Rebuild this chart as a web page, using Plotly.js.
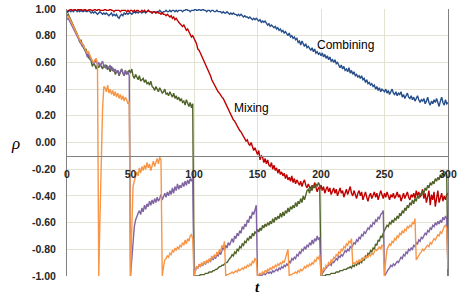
<!DOCTYPE html>
<html>
<head>
<meta charset="utf-8">
<script src="https://cdn.plot.ly/plotly-3.0.1.min.js"></script>
<style>html,body{margin:0;padding:0;background:#fff;}#chart{width:463px;height:300px;}</style>
</head>
<body>
<div id="chart"></div>
<script>
// time steps 0..300
const t = Array.from({length: 301}, (_, i) => i);

const combining = [
.97,.98,.99,.98,.99,.98,.99,.99,.98,.99,
.98,.99,.98,.98,.99,.98,.98,.99,.98,.97,
.98,.97,.98,.97,.96,.97,.98,.97,.96,.97,
.96,.97,.96,.95,.96,.97,.95,.96,.95,.96,
.94,.93,.95,.96,.95,.97,.96,.97,.96,.97,
.97,.96,.97,.98,.97,.98,.97,.98,.98,.97,
.98,.98,.97,.98,.99,.98,.98,.97,.98,.98,
.97,.98,.98,.99,.98,.97,.98,.98,.99,.98,
.98,.99,.98,.99,.99,.98,.99,.98,.99,.99,
.99,.98,.99,.99,1.0,.99,.99,.98,.99,.99,
.99,1.0,.99,.99,1.0,.99,.99,1.0,.99,.99,
.98,.99,.99,.98,.99,.99,.98,.98,.99,.98,
.98,.98,.97,.98,.97,.97,.98,.97,.96,.97,
.96,.97,.96,.96,.95,.96,.95,.96,.95,.94,
.95,.94,.94,.93,.94,.93,.92,.93,.92,.93,
.92,.91,.92,.90,.91,.90,.91,.89,.88,.89,
.87,.88,.87,.86,.87,.85,.86,.84,.85,.83,
.84,.82,.83,.81,.80,.82,.79,.80,.78,.79,
.77,.78,.75,.76,.73,.76,.74,.72,.74,.71,
.72,.70,.69,.71,.68,.70,.67,.68,.66,.67,
.65,.67,.64,.66,.63,.65,.62,.64,.61,.62,
.60,.62,.59,.60,.58,.56,.58,.55,.57,.54,
.55,.53,.56,.52,.54,.51,.53,.50,.51,.49,
.50,.48,.50,.47,.48,.45,.47,.44,.45,.43,
.44,.42,.43,.40,.42,.39,.41,.38,.40,.39,
.38,.40,.37,.39,.36,.38,.40,.37,.36,.38,
.35,.37,.36,.38,.34,.36,.33,.35,.37,.34,
.33,.35,.32,.34,.31,.33,.35,.32,.30,.32,
.31,.33,.29,.31,.34,.30,.28,.31,.29,.32,
.30,.33,.29,.27,.31,.34,.30,.28,.32,.29,
.30
];

const mixing = [
.98,.99,.99,1.0,.99,.99,1.0,.99,.99,1.0,
.99,1.0,.99,.99,1.0,.99,.99,.99,1.0,.99,
.99,.99,1.0,.99,.99,1.0,.99,.99,.99,.99,
1.0,.99,.99,.99,1.0,.99,.99,.98,.99,.99,
.99,.99,.98,.99,.99,.99,.99,.98,.99,.98,
.99,.99,.98,.99,.98,.99,.99,.98,.98,.99,
.98,.99,.98,.98,.99,.98,.98,.97,.98,.98,
.97,.98,.97,.97,.96,.97,.96,.96,.95,.96,
.95,.94,.95,.93,.94,.92,.93,.91,.90,.89,
.88,.87,.88,.86,.84,.85,.83,.81,.79,.80,
.78,.77,.74,.70,.69,.67,.65,.63,.61,.59,
.57,.55,.52,.50,.47,.45,.44,.41,.39,.38,
.37,.35,.34,.33,.31,.29,.27,.24,.23,.21,
.19,.17,.16,.14,.12,.11,.09,.08,.06,.04,
.03,.01,.02,-.01,-.02,.00,-.03,-.06,-.04,-.07,
-.09,-.06,-.13,-.10,-.11,-.15,-.12,-.16,-.13,-.17,
-.18,-.15,-.20,-.17,-.21,-.19,-.23,-.20,-.24,-.22,
-.25,-.23,-.27,-.24,-.28,-.26,-.29,-.25,-.30,-.27,
-.31,-.28,-.30,-.32,-.29,-.33,-.30,-.28,-.32,-.34,
-.31,-.33,-.36,-.32,-.34,-.30,-.33,-.37,-.34,-.35,
-.32,-.36,-.33,-.38,-.35,-.33,-.37,-.34,-.39,-.36,
-.34,-.38,-.35,-.40,-.37,-.34,-.38,-.36,-.41,-.37,
-.35,-.39,-.36,-.33,-.38,-.40,-.36,-.39,-.42,-.38,
-.36,-.40,-.37,-.43,-.39,-.37,-.41,-.44,-.40,-.38,
-.42,-.39,-.37,-.41,-.38,-.43,-.40,-.36,-.39,-.42,
-.38,-.41,-.37,-.40,-.43,-.39,-.41,-.38,-.42,-.40,
-.37,-.41,-.39,-.44,-.40,-.38,-.42,-.39,-.37,-.41,
-.43,-.39,-.41,-.38,-.42,-.36,-.40,-.37,-.41,-.39,
-.35,-.42,-.38,-.45,-.40,-.36,-.47,-.39,-.43,-.37,
-.48,-.40,-.36,-.45,-.41,-.38,-.44,-.40,-.43,-.39,
-.38
];

const seriesGreen = [
.95,.96,.94,.92,.90,.88,.86,.84,.81,.79,
.75,.77,.73,.71,.69,.70,.66,.63,.65,.61,
.57,.59,.58,.55,.58,.56,.59,.57,.55,.58,
.56,.58,.55,.56,.53,.57,.54,.55,.51,.53,
.54,.50,.53,.55,.52,.50,.54,.51,.53,.54,
.52,.55,.50,.48,.51,.49,.47,.50,.46,.47,
.48,.45,.47,.44,.45,.43,.46,.42,.41,.39,
.42,.40,.38,.41,.39,.37,.38,.40,.36,.37,
.35,.38,.36,.34,.37,.33,.35,.32,.34,.31,
.33,.30,.31,.28,.32,.29,.27,.30,.26,.29,
-1.0,-1.0,-1.0,-1.0,-1.0,-.99,-.99,-.99,-.99,-.98,
-.98,-.98,-.97,-.97,-.97,-.96,-.96,-.95,-.95,-.94,
-.93,-.93,-.92,-.92,-.91,-.90,-.90,-.88,-.87,-.86,
-.84,-.85,-.82,-.83,-.80,-.81,-.78,-.79,-.76,-.77,
-.74,-.75,-.72,-.73,-.70,-.72,-.68,-.70,-.67,-.68,
-.65,-.67,-.64,-.66,-.62,-.64,-.61,-.63,-.60,-.62,
-.59,-.61,-.57,-.60,-.56,-.58,-.55,-.57,-.53,-.56,
-.52,-.55,-.51,-.53,-.49,-.52,-.48,-.50,-.47,-.49,
-.45,-.48,-.44,-.46,-.42,-.45,-.40,-.43,-.38,-.36,
-.35,-.38,-.33,-.36,-.32,-.34,-.31,-.33,-.30,-.32,
-1.0,-1.0,-1.0,-1.0,-.99,-.99,-.99,-.99,-.98,-.98,
-.98,-.98,-.97,-.97,-.97,-.96,-.96,-.96,-.95,-.95,
-.95,-.94,-.94,-.93,-.94,-.92,-.93,-.91,-.92,-.90,
-.91,-.89,-.90,-.87,-.88,-.85,-.86,-.83,-.84,-.81,
-.82,-.79,-.80,-.76,-.77,-.73,-.74,-.70,-.71,-.68,
-.66,-.64,-.62,-.63,-.60,-.61,-.58,-.60,-.57,-.58,
-.55,-.57,-.53,-.55,-.51,-.53,-.49,-.51,-.47,-.49,
-.45,-.47,-.43,-.46,-.42,-.44,-.40,-.42,-.38,-.40,
-.36,-.38,-.34,-.36,-.32,-.34,-.30,-.32,-.29,-.31,
-.27,-.29,-.26,-.28,-.24,-.26,-.23,-.25,-.22,-.24,
-1.0
];

const seriesPurple = [
.92,.93,.91,.89,.87,.85,.83,.81,.79,.78,
.76,.74,.72,.73,.70,.68,.64,.66,.62,.63,
.61,.59,.60,.62,.58,.60,.57,.59,.61,.57,
.58,.55,.57,.56,.58,.54,.56,.53,.55,.52,
.54,.51,.53,.55,.52,.50,.54,.51,.53,.50,
-1.0,-.88,-.72,-.63,-.58,-.55,-.53,-.51,-.54,-.49,
-.52,-.47,-.50,-.46,-.48,-.44,-.47,-.43,-.46,-.42,
-.45,-.41,-.44,-.42,-.39,-.43,-.40,-.38,-.41,-.37,
-.40,-.36,-.39,-.34,-.38,-.33,-.36,-.31,-.35,-.32,
-.34,-.30,-.33,-.29,-.32,-.28,-.31,-.27,-.29,-.26,
-1.0,-.96,-.93,-.94,-.92,-.93,-.91,-.92,-.90,-.91,
-.89,-.90,-.88,-.89,-.86,-.88,-.85,-.87,-.84,-.85,
-.82,-.84,-.80,-.78,-.81,-.77,-.79,-.75,-.77,-.74,
-.72,-.75,-.70,-.72,-.68,-.70,-.66,-.68,-.63,-.65,
-.61,-.63,-.58,-.60,-.55,-.57,-.52,-.54,-.49,-.47,
-1.0,-1.0,-.99,-1.0,-.99,-.98,-.99,-.98,-.97,-.98,
-.97,-.98,-.96,-.97,-.96,-.95,-.96,-.94,-.95,-.93,
-.94,-.92,-.93,-.91,-.92,-.89,-.90,-.87,-.88,-.86,
-.87,-.84,-.85,-.82,-.83,-.80,-.81,-.78,-.80,-.77,
-.78,-.75,-.77,-.73,-.76,-.72,-.74,-.70,-.73,-.71,
-1.0,-.98,-.96,-.95,-.94,-.93,-.92,-.91,-.92,-.89,
-.90,-.88,-.87,-.88,-.85,-.86,-.84,-.85,-.83,-.81,
-.82,-.80,-.81,-.78,-.79,-.77,-.75,-.76,-.73,-.74,
-.71,-.72,-.69,-.70,-.67,-.68,-.66,-.64,-.65,-.62,
-.63,-.60,-.61,-.58,-.59,-.56,-.57,-.54,-.53,-.51,
-1.0,-.98,-.96,-.95,-.94,-.92,-.93,-.91,-.92,-.90,
-.89,-.90,-.88,-.86,-.87,-.84,-.85,-.82,-.83,-.80,
-.81,-.79,-.80,-.77,-.78,-.75,-.76,-.73,-.74,-.71,
-.72,-.70,-.68,-.69,-.66,-.67,-.64,-.65,-.62,-.63,
-.60,-.62,-.59,-.61,-.58,-.60,-.56,-.58,-.55,-.57,
-1.0
];

const seriesOrange = [
.93,.95,.93,.91,.88,.86,.84,.82,.80,.78,
.77,.75,.74,.72,.70,.69,.67,.68,.65,.63,
.61,.60,.62,.63,.59,
-1.0,
-.55,-.10,.25,.42,
.41,.38,.43,.37,.40,.36,.39,.35,.38,.34,
.37,.33,.36,.32,.35,.31,.34,.32,.29,.31,
-1.0,
-.65,-.33,-.29,
-.26,-.22,-.25,-.19,-.23,-.18,
-.21,-.17,-.20,-.15,-.19,-.16,-.21,-.17,-.14,-.18,
-.15,-.12,-.16,-.11,-.13,
-1.0,
-.93,-.88,-.87,-.85,
-.86,-.83,-.84,-.81,-.82,-.79,-.81,-.78,-.80,-.77,
-.78,-.75,-.77,-.73,-.76,-.72,-.74,-.70,-.69,-.72,
-1.0,
-.95,-.93,-.94,-.91,-.93,-.90,-.92,-.89,-.91,
-.88,-.90,-.87,-.89,-.85,-.87,-.84,-.86,-.82,-.84,
-.80,-.82,-.77,-.79,-.74,
-1.0,
-.99,-.99,-.98,-.98,
-.97,-.98,-.97,-.96,-.97,-.95,-.96,-.95,-.94,-.95,
-.93,-.94,-.92,-.93,-.91,-.92,-.89,-.90,-.87,-.88,
-1.0,
-.99,-.98,-.99,-.97,-.98,-.96,-.97,-.95,-.96,
-.94,-.95,-.93,-.94,-.92,-.93,-.91,-.92,-.90,-.91,
-.89,-.90,-.87,-.83,-.80,
-1.0,
-.99,-.99,-.98,-.98,
-.97,-.98,-.96,-.97,-.95,-.96,-.95,-.93,-.94,-.92,
-.93,-.91,-.92,-.90,-.91,-.88,-.89,-.86,-.87,-.84,
-1.0,
-.97,-.94,-.95,-.92,-.93,-.90,-.91,-.88,-.89,
-.86,-.87,-.84,-.85,-.82,-.83,-.80,-.81,-.78,-.79,
-.76,-.77,-.74,-.75,-.72,
-.91,
-.90,-.91,-.89,-.90,
-.88,-.89,-.87,-.88,-.86,-.87,-.85,-.86,-.84,-.85,
-.83,-.84,-.82,-.80,-.81,-.79,-.78,-.80,-.77,-.78,
-1.0,
-.88,-.80,-.78,-.76,-.77,-.74,-.75,-.72,-.73,
-.70,-.71,-.68,-.69,-.66,-.68,-.65,-.66,-.63,-.64,
-.62,-.63,-.60,-.61,-.57,
-.88,
-.86,-.84,-.83,-.82,
-.80,-.81,-.79,-.78,-.77,-.78,-.75,-.76,-.74,-.72,
-.73,-.71,-.69,-.70,-.67,-.68,-.65,-.63,-.62,-.64,
-.95
];

const xTickVals = [0, 50, 100, 150, 200, 250, 300];
const xTickText = ['0', '50', '100', '150', '200', '250', '300'];
const yTickVals = [1, 0.8, 0.6, 0.4, 0.2, 0, -0.2, -0.4, -0.6, -0.8, -1];
const yTickText = ['1.00', '0.80', '0.60', '0.40', '0.20', '0.00', '-0.20', '-0.40', '-0.60', '-0.80', '-1.00'];

const lineW = 1.4;
const traces = [
  {x: t, y: combining, name: 'Combining', line: {color: '#254e8a', width: lineW}},
  {x: t, y: mixing, name: 'Mixing', line: {color: '#c00000', width: lineW}},
  {x: t, y: seriesGreen, name: 'Series 3', line: {color: '#4f6228', width: lineW}},
  {x: t, y: seriesPurple, name: 'Series 4', line: {color: '#8064a2', width: lineW}},
  {x: t, y: seriesOrange, name: 'Series 5', line: {color: '#f79646', width: lineW}}
].map(d => Object.assign({type: 'scatter', mode: 'lines', hoverinfo: 'skip'}, d));

const tickFont = {family: 'Liberation Sans, Arial, sans-serif', size: 10.5, color: '#262626', weight: 'bold'};
const gridC = '#e4e2d0';
const axisC = '#808080';

const layout = {
  width: 463, height: 300,
  margin: {l: 67, r: 15, t: 9, b: 24, pad: 0},
  paper_bgcolor: '#ffffff', plot_bgcolor: '#ffffff',
  showlegend: false,
  xaxis: {
    range: [0, 300], tickmode: 'array', tickvals: xTickVals, ticktext: xTickText,
    showgrid: true, gridcolor: gridC, gridwidth: 1, zeroline: false,
    showline: true, linecolor: axisC, linewidth: 1,
    anchor: 'free', position: 0.45, ticks: '',
    ticklabelstandoff: 9, tickfont: tickFont
  },
  yaxis: {
    range: [-1, 1], tickmode: 'array', tickvals: yTickVals, ticktext: yTickText,
    showgrid: true, gridcolor: gridC, gridwidth: 1, zeroline: false,
    showline: true, mirror: true, linecolor: axisC, linewidth: 1, ticks: '',
    ticklabelstandoff: 8, tickfont: tickFont
  },
  annotations: [
    {xref: 'x', yref: 'y', x: 219, y: 0.73, text: 'Combining', showarrow: false,
     font: {family: 'Liberation Sans, Arial, sans-serif', size: 12, color: '#000'}},
    {xref: 'x', yref: 'y', x: 145, y: 0.26, text: 'Mixing', showarrow: false,
     font: {family: 'Liberation Sans, Arial, sans-serif', size: 12, color: '#000'}},
    {xref: 'paper', yref: 'paper', x: -0.134, y: 0.498, text: '<i>ρ</i>', showarrow: false,
     xanchor: 'center', yanchor: 'middle',
     font: {family: 'Liberation Serif, serif', size: 17, color: '#000'}},
    {xref: 'paper', yref: 'paper', x: 0.499, y: -0.04, text: '<b><i>t</i></b>', showarrow: false,
     xanchor: 'center', yanchor: 'middle',
     font: {family: 'Liberation Serif, serif', size: 15, color: '#000'}}
  ]
};

Plotly.newPlot('chart', traces, layout, {staticPlot: true, displayModeBar: false});
</script>
</body>
</html>
